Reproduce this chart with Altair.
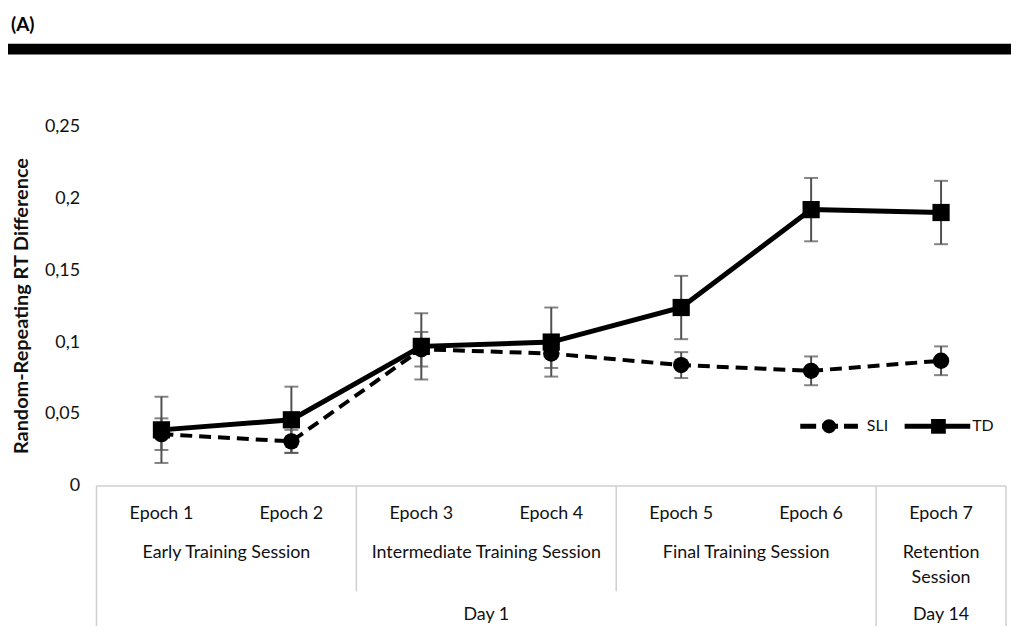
import altair as alt
import pandas as pd

# ---------------- data ----------------
epoch_labels = ["Epoch 1", "Epoch 2", "Epoch 3", "Epoch 4", "Epoch 5", "Epoch 6", "Epoch 7"]
epoch_index = [1, 2, 3, 4, 5, 6, 7]

session_labels = ["Early Training Session", "Intermediate Training Session",
                  "Final Training Session", "Retention\nSession"]
session_epochs = [[1, 2], [3, 4], [5, 6], [7]]

day_labels = ["Day 1", "Day 14"]
day_epochs = [[1, 2, 3, 4, 5, 6], [7]]

sli_mean = [0.036, 0.031, 0.095, 0.092, 0.084, 0.080, 0.087]
sli_se = [0.011, 0.008, 0.012, 0.010, 0.009, 0.010, 0.010]
td_mean = [0.039, 0.046, 0.097, 0.100, 0.124, 0.192, 0.190]
td_se = [0.023, 0.023, 0.023, 0.024, 0.022, 0.022, 0.022]

y_ticks = [0, 0.05, 0.1, 0.15, 0.2, 0.25]
legend_labels = ["SLI", "TD"]
panel_label = "(A)"
y_title = "Random-Repeating RT Difference"

# ---------------- tables ----------------
def series(name, mean, se):
    return pd.DataFrame({
        "group": name,
        "x": epoch_index,
        "mean": mean,
        "lo": [m - s for m, s in zip(mean, se)],
        "hi": [m + s for m, s in zip(mean, se)],
    })

sli = series("SLI", sli_mean, sli_se)
td = series("TD", td_mean, td_se)
both = pd.concat([sli, td])

epochs_df = pd.DataFrame({"x": epoch_index, "label": epoch_labels})
sessions_df = pd.DataFrame({
    "x": [sum(e) / len(e) for e in session_epochs],
    "label": session_labels,
})
days_df = pd.DataFrame({
    "x": [(min(e) + max(e)) / 2 for e in day_epochs],
    "label": day_labels,
})
full_bounds = pd.DataFrame({"x": [min(day_epochs[0]) - 0.5, max(day_epochs[0]) + 0.5,
                                  max(day_epochs[1]) + 0.5]})
short_bounds = pd.DataFrame({"x": [max(session_epochs[0]) + 0.5, max(session_epochs[1]) + 0.5]})
top_line = pd.DataFrame({"x": [epoch_index[0] - 0.5], "x2": [epoch_index[-1] + 0.5]})
one = pd.DataFrame({"k": [0]})

# ---------------- layout ----------------
W, H = 915, 362
FONT = "Lato"
TXT = "#111111"
GRID = "#cfcfcf"
FS = 18

xs = alt.Scale(domain=[0.5, 7.5], nice=False, zero=False)
X = alt.X("x:Q", scale=xs, axis=None)
ys = alt.Scale(domain=[0, 0.25], nice=False)
Y_axis = alt.Axis(values=y_ticks,
                  labelExpr="replace(toString(datum.value), '.', ',')",
                  domain=False, ticks=False, grid=False, labelPadding=17,
                  labelFontSize=18, labelFont=FONT, labelColor=TXT, title=None)

err_col = "#505050"
err_rule = alt.Chart(both).mark_rule(color=err_col, strokeWidth=2).encode(
    x=X, y=alt.Y("lo:Q", scale=ys, axis=Y_axis), y2="hi:Q")
cap_hi = alt.Chart(both).mark_tick(orient="horizontal", size=14, thickness=2,
                                   color=err_col).encode(x=X, y=alt.Y("hi:Q", scale=ys))
cap_lo = alt.Chart(both).mark_tick(orient="horizontal", size=14, thickness=2,
                                   color=err_col).encode(x=X, y=alt.Y("lo:Q", scale=ys))

sli_line = alt.Chart(sli).mark_line(color="black", strokeWidth=4,
                                    strokeDash=[12, 7]).encode(
    x=X, y=alt.Y("mean:Q", scale=ys))
td_line = alt.Chart(td).mark_line(color="black", strokeWidth=5).encode(
    x=X, y=alt.Y("mean:Q", scale=ys))
sli_pts = alt.Chart(sli).mark_point(shape="circle", filled=True, size=270,
                                    color="black", opacity=1).encode(
    x=X, y=alt.Y("mean:Q", scale=ys))
td_pts = alt.Chart(td).mark_point(shape="square", filled=True, size=300,
                                  color="black", opacity=1).encode(
    x=X, y=alt.Y("mean:Q", scale=ys))

# category table
tbl_top = alt.Chart(top_line).mark_rule(color=GRID, strokeWidth=1.5).encode(
    x=X, x2="x2:Q", y=alt.value(H))
tbl_full = alt.Chart(full_bounds).mark_rule(color=GRID, strokeWidth=1.5).encode(
    x=X, y=alt.value(H), y2=alt.value(H + 150))
tbl_short = alt.Chart(short_bounds).mark_rule(color=GRID, strokeWidth=1.5).encode(
    x=X, y=alt.value(H), y2=alt.value(H + 106))
ep_text = alt.Chart(epochs_df).mark_text(font=FONT, fontSize=FS, color=TXT,
                                         baseline="middle").encode(
    x=X, y=alt.value(H + 28), text="label:N")
ses_text = alt.Chart(sessions_df).mark_text(font=FONT, fontSize=FS, color=TXT,
                                            baseline="top", lineBreak="\n",
                                            lineHeight=26).encode(
    x=X, y=alt.value(H + 58), text="label:N")
day_text = alt.Chart(days_df).mark_text(font=FONT, fontSize=FS, color=TXT,
                                        baseline="middle").encode(
    x=X, y=alt.value(H + 130), text="label:N")

# legend
LY = 302
leg_sli_line = alt.Chart(one).mark_rule(color="black", strokeWidth=5,
                                        strokeDash=[16, 6]).encode(
    x=alt.value(708), x2=alt.value(766), y=alt.value(LY))
leg_sli_pt = alt.Chart(one).mark_point(shape="circle", filled=True, size=200,
                                       color="black", opacity=1).encode(
    x=alt.value(737), y=alt.value(LY))
leg_td_line = alt.Chart(one).mark_rule(color="black", strokeWidth=5).encode(
    x=alt.value(813), x2=alt.value(879), y=alt.value(LY))
leg_td_pt = alt.Chart(one).mark_point(shape="square", filled=True, size=220,
                                      color="black", opacity=1).encode(
    x=alt.value(847), y=alt.value(LY))
leg_sli_txt = alt.Chart(one).mark_text(font=FONT, fontSize=16, color=TXT, align="left",
                                       baseline="middle", text=legend_labels[0]).encode(
    x=alt.value(775), y=alt.value(LY))
leg_td_txt = alt.Chart(one).mark_text(font=FONT, fontSize=16, color=TXT, align="left",
                                      baseline="middle", text=legend_labels[1]).encode(
    x=alt.value(881), y=alt.value(LY))

# header and y title
head_txt = alt.Chart(one).mark_text(font=FONT, fontSize=19, fontWeight="bold",
                                    color="black", align="left", baseline="middle",
                                    text=panel_label).encode(
    x=alt.value(-86), y=alt.value(-102))
head_bar = alt.Chart(one).mark_rule(color="black", strokeWidth=11).encode(
    x=alt.value(-89), x2=alt.value(925), y=alt.value(-77.5))
ytitle = alt.Chart(one).mark_text(font=FONT, fontSize=20, fontWeight="bold",
                                  color=TXT, angle=270, align="center",
                                  baseline="middle", text=y_title).encode(
    x=alt.value(-75), y=alt.value(181))

chart = alt.layer(
    err_rule, cap_hi, cap_lo,
    sli_line, td_line, sli_pts, td_pts,
    tbl_top, tbl_full, tbl_short, ep_text, ses_text, day_text,
    leg_sli_line, leg_sli_pt, leg_td_line, leg_td_pt, leg_sli_txt, leg_td_txt,
    head_txt, head_bar, ytitle,
).properties(
    width=W, height=H,
    autosize=alt.AutoSizeParams(type="none"),
    padding={"left": 89, "top": 117, "right": 5, "bottom": 139},
    background="white",
).configure_view(stroke=None)

chart.save("out.html", embed_options={"renderer": "svg", "actions": False})
